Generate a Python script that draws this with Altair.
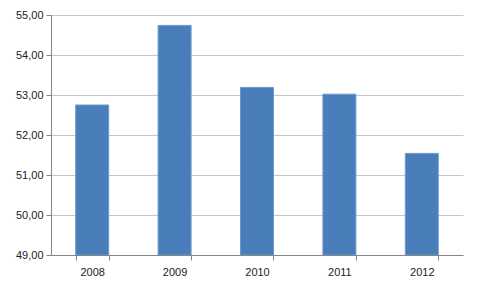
import altair as alt
import pandas as pd

years = ["2008", "2009", "2010", "2011", "2012"]
values = [52.75, 54.74, 53.19, 53.02, 51.54]
y_ticks = [49, 50, 51, 52, 53, 54, 55]
base_value = 49

df = pd.DataFrame({"year": years, "value": values})

chart = alt.Chart(df).mark_bar(
    color="#4a7ebb", stroke="#6b97cc", strokeWidth=1, clip=True
).encode(
    x=alt.X("year:N", title=None,
            scale=alt.Scale(paddingInner=0.6, paddingOuter=0.3),
            axis=alt.Axis(labelAngle=0, tickBand="extent", tickSize=5,
                          domainColor="#868686", tickColor="#868686",
                          labelFont="Liberation Sans", labelFontSize=11,
                          labelColor="#222222", labelPadding=6, grid=False)),
    y=alt.Y("value:Q", title=None,
            scale=alt.Scale(domain=[49, 55], nice=False, zero=False),
            axis=alt.Axis(values=y_ticks, tickSize=5,
                          labelExpr="replace(format(datum.value, '.2f'), '.', ',')",
                          domainColor="#868686", tickColor="#868686",
                          gridColor="#c6c6c6", gridWidth=1,
                          labelFont="Liberation Sans", labelFontSize=11,
                          labelColor="#222222", labelPadding=3)),
    y2=alt.datum(base_value),
).properties(
    width=412, height=240,
    autosize=alt.AutoSizeParams(type="none"),
    padding={"left": 51, "top": 15, "right": 16, "bottom": 34},
).configure(background="white").configure_view(stroke=None)

chart.save("out.html", embed_options={"renderer": "svg", "actions": False})
